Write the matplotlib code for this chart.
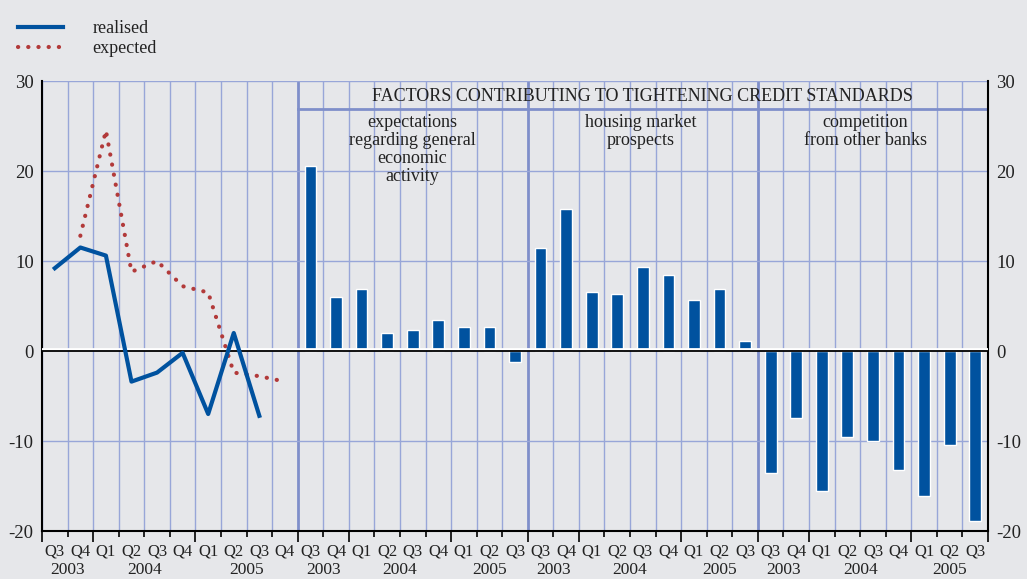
import numpy as np
import matplotlib
matplotlib.use("Agg")
import matplotlib.pyplot as plt
from matplotlib.lines import Line2D
from matplotlib.transforms import blended_transform_factory

# ------------------------------------------------------------
# data
# ------------------------------------------------------------
line_quarters = ["Q3", "Q4", "Q1", "Q2", "Q3", "Q4", "Q1", "Q2", "Q3", "Q4"]
line_years = ["2003", "2004", "2005"]
realised = [9.2, 11.5, 10.6, -3.4, -2.4, -0.2, -7.0, 2.0, -7.2, np.nan]
expected = [np.nan, 12.8, 24.5, 8.8, 10.0, 7.2, 6.5, -2.4, -2.8, -3.4]

bar_quarters = ["Q3", "Q4", "Q1", "Q2", "Q3", "Q4", "Q1", "Q2", "Q3"]
bar_years = ["2003", "2004", "2005"]
panel_titles = ["expectations\nregarding general\neconomic\nactivity",
                "housing market\nprospects",
                "competition\nfrom other banks"]
expectations = [20.6, 6.0, 6.9, 2.0, 2.3, 3.5, 2.7, 2.7, -1.2]
housing = [11.5, 15.8, 6.6, 6.3, 9.3, 8.5, 5.7, 6.9, 1.1]
competition = [-13.6, -7.4, -15.6, -9.5, -10.0, -13.2, -16.1, -10.4, -18.9]
header = "FACTORS CONTRIBUTING TO TIGHTENING CREDIT STANDARDS"
yticks = [-20, -10, 0, 10, 20, 30]

# ------------------------------------------------------------
# style
# ------------------------------------------------------------
BG = "#E6E7EA"
GRID = "#98A6D8"
SEP = "#7F8FCA"
BLUE = "#00529F"
RED = "#B23A3A"
TXT = "#222222"
DOTS = (0, (0.05, 2.4))
plt.rcParams["font.family"] = ["Liberation Serif", "DejaVu Serif"]

fig = plt.figure(figsize=(10.27, 5.79), dpi=100, facecolor=BG)
ax = fig.add_axes([42 / 1027, 1 - 531 / 579, 946 / 1027, 450 / 579])
ax.set_facecolor(BG)

n_left = len(line_quarters)
n_bar = len(bar_quarters)
total = n_left + 3 * n_bar
ax.set_xlim(0, total)
ax.set_ylim(-20, 30)

# grid
for b in range(total + 1):
    sep = b in (n_left, n_left + n_bar, n_left + 2 * n_bar)
    ax.axvline(b, color=SEP if sep else GRID, lw=2.0 if sep else 1.0, zorder=1)
for y in (-10, 10, 20, 30):
    ax.axhline(y, color=GRID, lw=1.0, zorder=1)
ax.plot([n_left, total], [26.9, 26.9], color=SEP, lw=2.0, zorder=1)

# bars
panels = [expectations, housing, competition]
for p, vals in enumerate(panels):
    x0 = n_left + p * n_bar
    xs = x0 + np.arange(n_bar) + 0.5
    ax.bar(xs, vals, width=0.46, color=BLUE, edgecolor="white", linewidth=1.0, zorder=2)

# zero line
ax.axhline(0.2, color="white", lw=2.0, zorder=3)
ax.axhline(0, color="black", lw=1.3, zorder=3)

# lines
xl = np.arange(n_left) + 0.5
ax.plot(xl, expected, color=RED, lw=3.0, linestyle=DOTS,
        dash_capstyle="round", zorder=4)
ax.plot(xl, realised, color=BLUE, lw=3.0, zorder=5)

# texts
ax.text(n_left + 3 * n_bar / 2, 28.3, header, ha="center", va="center",
        fontsize=13, color=TXT, zorder=6)
title_x = [14.47, 23.4, 32.2]
for tx, t in zip(title_x, panel_titles):
    ax.text(tx, 26.3, t, ha="center", va="top", fontsize=13,
            linespacing=1.08, color=TXT, zorder=6)

# axes
for s in ("left", "right", "bottom"):
    ax.spines[s].set_color("black")
    ax.spines[s].set_linewidth(1.5)
ax.spines["top"].set_visible(False)
ax.set_yticks(yticks)
ax.set_yticklabels([str(v) for v in yticks])
ax.tick_params(axis="y", length=0, labelsize=13.5, labelright=True, pad=6,
               colors=TXT)

# x ticks: long at year/panel boundaries, short elsewhere
long_b = [0, 2, 6]
for p in range(3):
    x0 = n_left + p * n_bar
    long_b += [x0, x0 + 2, x0 + 6]
long_b.append(total)
short_b = [b for b in range(total + 1) if b not in long_b]
ax.set_xticks(long_b)
ax.set_xticks(short_b, minor=True)
ax.set_xticklabels([])
ax.tick_params(axis="x", which="major", length=8, width=1.2, direction="out", color="black")
ax.tick_params(axis="x", which="minor", length=4, width=1.2, direction="out", color="black")

trans = blended_transform_factory(ax.transData, ax.transAxes)
for i, q in enumerate(line_quarters):
    ax.text(i + 0.5, -0.045, q, transform=trans, ha="center", va="center",
            fontsize=12, color=TXT)
for xpos, yr in zip([1, 4, 8], line_years):
    ax.text(xpos, -0.086, yr, transform=trans, ha="center", va="center",
            fontsize=12.5, color=TXT)
for p in range(3):
    x0 = n_left + p * n_bar
    for i, q in enumerate(bar_quarters):
        ax.text(x0 + i + 0.5, -0.045, q, transform=trans, ha="center", va="center",
                fontsize=12, color=TXT)
    for xpos, yr in zip([1, 4, 7.5], bar_years):
        ax.text(x0 + xpos, -0.086, yr, transform=trans, ha="center", va="center",
                fontsize=12.5, color=TXT)

# legend
handles = [Line2D([], [], color=BLUE, lw=3.0),
           Line2D([], [], color=RED, lw=3.0, linestyle=DOTS,
                  dash_capstyle="round")]
fig.legend(handles, ["realised", "expected"], loc="upper left",
           bbox_to_anchor=(2 / 1027, 1 - 4 / 579), frameon=False, fontsize=13,
           handlelength=2.5, handletextpad=1.6, labelspacing=0.15,
           labelcolor=TXT)

fig.savefig("out.png", dpi=100, facecolor=BG)
